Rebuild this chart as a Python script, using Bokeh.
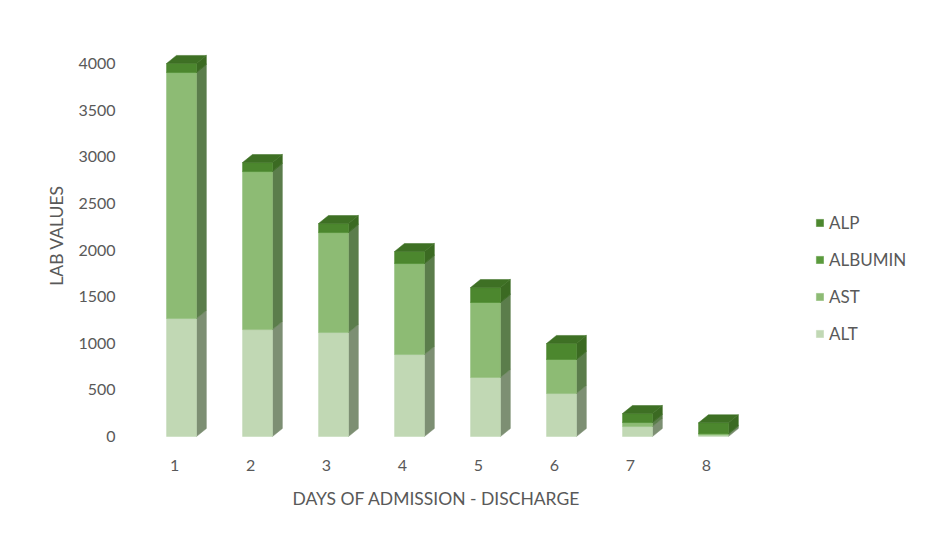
import numpy as np
from bokeh.plotting import figure
from bokeh.models import FixedTicker, Legend, LegendItem, Title
from bokeh.embed import file_html
from bokeh.resources import INLINE

# ---- data ----
days = [1, 2, 3, 4, 5, 6, 7, 8]
alt = [1265, 1147, 1115, 879, 633, 461, 107, 15]
ast = [2638, 1694, 1072, 976, 804, 365, 43, 15]
albumin = [3.2, 3.0, 2.9, 2.8, 2.7, 2.6, 2.5, 2.4]
alp = [94, 94, 94, 126, 158, 169, 94, 115]
series_names = ["ALT", "AST", "ALBUMIN", "ALP"]
y_ticks = [0, 500, 1000, 1500, 2000, 2500, 3000, 3500, 4000]
x_title = "DAYS OF ADMISSION - DISCHARGE"
y_title = "LAB VALUES"

# ---- styles ----
front_colors = ["#c1d8b4", "#8dbb74", "#5a9a3c", "#4c872e"]
side_colors = ["#7d8f73", "#5b7d4b", "#3f6c28", "#3b6a22"]
top_color = "#3e7024"
text_color = "#595959"
FONT = "Lato"

p = figure(width=928, height=533, output_backend="svg", toolbar_location=None,
           x_range=(0.355, 10.75), y_range=(-150, 4461),
           min_border_left=125, min_border_right=13, min_border_top=20, min_border_bottom=83)
p.outline_line_color = None
p.background_fill_color = "white"
p.border_fill_color = "white"
p.grid.grid_line_color = None

x = np.array(days, dtype=float)
shift = 0.092      # front face offset from tick
half = 0.197       # half width of front face
dx = 0.13          # depth (x, data units)
dy = 86.0          # depth (y, data units)
left = x + shift - half
right = x + shift + half

stack = [np.array(alt, float), np.array(ast, float), np.array(albumin, float), np.array(alp, float)]
bottom = np.zeros(len(days))
front_renderers = []
for k, vals in enumerate(stack):
    top = bottom + vals
    xs = [[r, r + dx, r + dx, r] for r in right]
    ys = [[b, b + dy, t + dy, t] for b, t in zip(bottom, top)]
    p.patches(xs, ys, fill_color=side_colors[k], line_color=side_colors[k], line_width=0.5)
    r = p.quad(left=left, right=right, bottom=bottom, top=top,
               fill_color=front_colors[k], line_color=front_colors[k], line_width=0.5)
    front_renderers.append(r)
    bottom = top

# top faces
xs = [[l, l + dx, r + dx, r] for l, r in zip(left, right)]
ys = [[t, t + dy, t + dy, t] for t in bottom]
p.patches(xs, ys, fill_color=top_color, line_color=top_color, line_width=0.5)

# axes
p.xaxis.ticker = FixedTicker(ticks=days)
p.yaxis.ticker = FixedTicker(ticks=y_ticks)
for ax in (p.xaxis[0], p.yaxis[0]):
    ax.axis_line_color = None
    ax.major_tick_line_color = None
    ax.minor_tick_line_color = None
    ax.major_label_text_color = text_color
    ax.major_label_text_font = FONT
    ax.major_label_text_font_size = "16px"
    ax.axis_label_text_color = text_color
    ax.axis_label_text_font = FONT
    ax.axis_label_text_font_size = "17.5px"
    ax.axis_label_text_font_style = "normal"
p.yaxis.axis_label = y_title
p.xaxis.major_label_standoff = 3
p.yaxis.major_label_standoff = 4
p.yaxis.axis_label_standoff = 8

# x-axis title placed under the category axis, centred under the bars
xt = Title(text=x_title, align="left", offset=162, standoff=15,
           text_font=FONT, text_font_size="17.5px", text_font_style="normal",
           text_color=text_color)
if "padding" in Title.properties():
    xt.padding = 5
p.add_layout(xt, "below")

# legend
items = [LegendItem(label=series_names[k], renderers=[front_renderers[k]]) for k in [3, 2, 1, 0]]
legend = Legend(items=items, location=(690, 106))
legend.border_line_color = None
legend.background_fill_alpha = 0
legend.padding = 0
legend.margin = 0
legend.spacing = 16
legend.label_height = 20
legend.glyph_height = 9
legend.glyph_width = 9
legend.label_standoff = 5
legend.label_text_font = FONT
legend.label_text_font_size = "17px"
legend.label_text_color = text_color
p.add_layout(legend)

open("out.html", "w").write(file_html(p, INLINE))
